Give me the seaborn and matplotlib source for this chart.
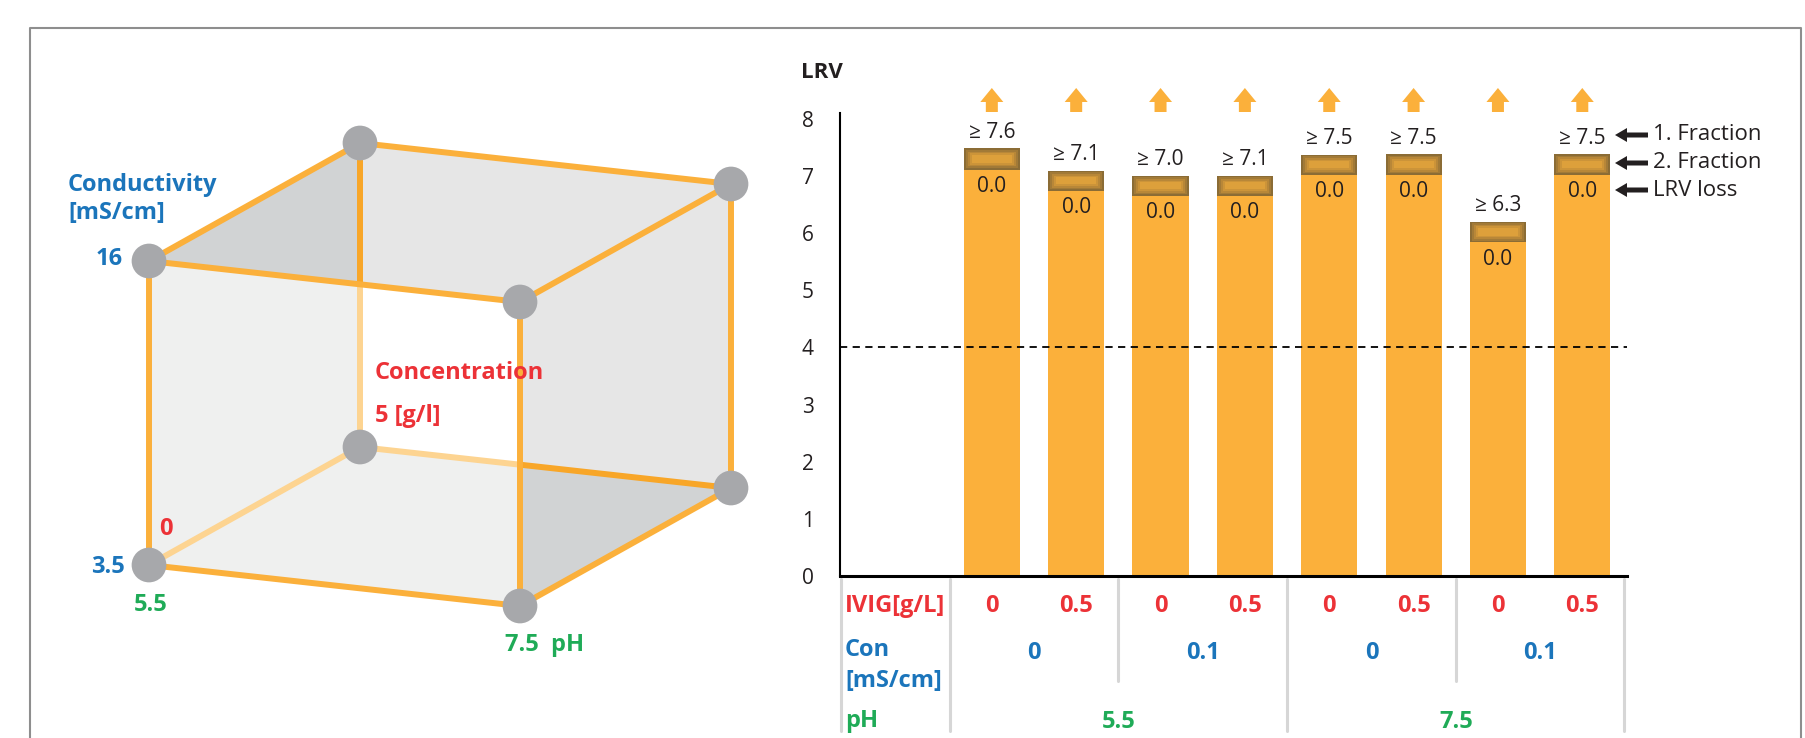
import numpy as np
import pandas as pd
import seaborn as sns
import matplotlib.pyplot as plt
from matplotlib.patches import Polygon, FancyArrow

sns.set_theme(style="white")
plt.rcParams['font.family'] = ['Open Sans', 'DejaVu Sans']

# ---- data ----
ivig = ["0", "0.5", "0", "0.5", "0", "0.5", "0", "0.5"]
con_groups = ["0", "0.1", "0", "0.1"]
ph_groups = ["5.5", "7.5"]
# LRV loss bar top (= bottom of 2. fraction) and top of 2. fraction
lrv_loss_top = [7.11, 6.74, 6.65, 6.65, 7.02, 7.02, 5.84, 7.02]
fraction2_top = [7.48, 7.09, 7.00, 7.00, 7.37, 7.38, 6.20, 7.38]
fraction1_labels = ["≥ 7.6", "≥ 7.1", "≥ 7.0", "≥ 7.1", "≥ 7.5", "≥ 7.5", "≥ 6.3", "≥ 7.5"]
loss_labels = ["0.0"] * 8
threshold = 4
yticks = [0, 1, 2, 3, 4, 5, 6, 7, 8]

# cube ranges
ph_range = [5.5, 7.5]
cond_range = [3.5, 16]
conc_range = [0, 5]

ORANGE = "#fbb03b"
ORANGE_DARK = "#f8a628"
ORANGE_LIGHT = "#fdd491"
RED = "#ec3237"
BLUE = "#1b75bb"
GREEN = "#1fab57"
INK = "#231f20"

W, H = 1806, 738
fig = plt.figure(figsize=(W / 100, H / 100), dpi=100)

# ---- left: cube diagram in pixel space ----
bg = fig.add_axes([0, 0, 1, 1])
bg.set_xlim(0, W)
bg.set_ylim(H, 0)
bg.axis("off")

# frame
bg.plot([29.6, 29.6, 1801, 1801], [H, 28.2, 28.2, H], color="#8e8e8e", lw=1.5)


def proj(ph, cond, conc):
    u = (ph - ph_range[0]) / (ph_range[1] - ph_range[0])
    v = (cond - cond_range[0]) / (cond_range[1] - cond_range[0])
    w = (conc - conc_range[0]) / (conc_range[1] - conc_range[0])
    return np.array([149 + 371 * u + 211 * w, 565 + 41 * u - 304 * v - 118 * w])


def cross(p1, p2, p3, p4):
    d1, d2 = p2 - p1, p4 - p3
    t = np.cross(p3 - p1, d2) / np.cross(d1, d2)
    return p1 + t * d1


lo_ph, hi_ph = ph_range
lo_c, hi_c = cond_range
lo_k, hi_k = conc_range
A = proj(lo_ph, lo_c, lo_k)
B = proj(hi_ph, lo_c, lo_k)
C = proj(hi_ph, lo_c, hi_k)
D = proj(lo_ph, lo_c, hi_k)
E = proj(lo_ph, hi_c, lo_k)
F = proj(hi_ph, hi_c, lo_k)
G = proj(hi_ph, hi_c, hi_k)
Hh = proj(lo_ph, hi_c, hi_k)
X = cross(Hh, D, E, F)
Y = cross(D, C, F, B)

faces = [
    ([E, X, D, A], "#eff0ef"),
    ([A, D, Y, B], "#eff0ef"),
    ([X, F, Y, D], "#ffffff"),
    ([E, Hh, X], "#d1d3d4"),
    ([X, Hh, G, F], "#e6e6e6"),
    ([F, G, C, Y], "#e6e6e6"),
    ([Y, C, B], "#d1d3d4"),
]
for pts, col in faces:
    bg.add_patch(Polygon(np.array(pts), closed=True, facecolor=col, edgecolor="none", zorder=1))

lw = 4.3
for p, q in [(A, D), (X, D), (D, Y)]:
    bg.plot([p[0], q[0]], [p[1], q[1]], color=ORANGE_LIGHT, lw=lw, zorder=2, solid_capstyle="butt")
for p, q in [(Hh, X), (Y, C)]:
    bg.plot([p[0], q[0]], [p[1], q[1]], color=ORANGE_DARK, lw=lw, zorder=2, solid_capstyle="butt")
for p, q in [(A, B), (B, F), (F, E), (E, A), (E, Hh), (Hh, G), (G, F), (G, C), (C, B)]:
    bg.plot([p[0], q[0]], [p[1], q[1]], color=ORANGE, lw=lw, zorder=3, solid_capstyle="butt")

nodes = np.array([A, B, C, D, E, F, G, Hh])
bg.scatter(nodes[:, 0], nodes[:, 1], s=625, color="#a7a8ab", edgecolor="none", zorder=5)

cube_font = dict(fontsize=17, fontweight="bold", zorder=6)
bg.text(68, 185, "Conductivity", color=BLUE, ha="left", va="center", **cube_font)
bg.text(68, 213, "[mS/cm]", color=BLUE, ha="left", va="center", **cube_font)
bg.text(E[0] - 26, E[1] - 2, f"{hi_c:g}", color=BLUE, ha="right", va="center", **cube_font)
bg.text(A[0] - 24, A[1] + 2, f"{lo_c:g}", color=BLUE, ha="right", va="center", **cube_font)
bg.text(A[0] + 2, A[1] + 40, f"{lo_ph:g}", color=GREEN, ha="center", va="center", **cube_font)
bg.text(A[0] + 17, A[1] - 36, f"{lo_k:g}", color=RED, ha="center", va="center", **cube_font)
bg.text(375, 373, "Concentration", color=RED, ha="left", va="center", **cube_font)
bg.text(375, 416, f"{hi_k:g} [g/l]", color=RED, ha="left", va="center", **cube_font)
bg.text(B[0] - 15, B[1] + 39, f"{hi_ph:g}  pH", color=GREEN, ha="left", va="center", **cube_font)

# ---- right: LRV bar chart ----
x0, x1 = 840, 1627
y0, y1 = 576, 113
ax = fig.add_axes([x0 / W, 1 - y0 / H, (x1 - x0) / W, (y0 - y1) / H])
ax.patch.set_alpha(0)

df = pd.DataFrame({"sample": [f"S{i + 1}" for i in range(len(ivig))], "lrv": lrv_loss_top})
bw = 0.665
sns.barplot(data=df, x="sample", y="lrv", color=ORANGE, saturation=1, width=bw, ax=ax,
            zorder=2, edgecolor="none", linewidth=0)

xmin, xmax = -1.80, 7.53
ymax = 8.1
ax.set_xlim(xmin, xmax)
ax.set_ylim(0, ymax)
ppx = (x1 - x0) / (xmax - xmin)  # px per x unit
ppy = (y0 - y1) / ymax  # px per y unit

pos = np.arange(len(ivig))
band = np.array(fraction2_top) - np.array(lrv_loss_top)
base = np.array(lrv_loss_top)
# 2. fraction block, shaded from dark rim to lighter core
shades = [(0, "#8b6c35"), (2, "#a27a37"), (4, "#b88738"), (6, "#cc9439"), (8, "#dda03b")]
for inset, col in shades:
    ax.bar(pos, band - 2 * inset / ppy * 0.8, bottom=base + inset / ppy * 0.8,
           width=bw - 2 * inset / ppx, color=col, edgecolor="none", linewidth=0, zorder=3)

for i in pos:
    ax.text(i, fraction2_top[i] + 16 / ppy, fraction1_labels[i], ha="center", va="center",
            fontsize=15, color=INK, clip_on=False)
    ax.text(i, lrv_loss_top[i] - 17 / ppy, loss_labels[i], ha="center", va="center",
            fontsize=15, color=INK, zorder=4)
    ax.add_patch(FancyArrow(i, ymax + 1 / ppy, 0, 24 / ppy, width=12 / ppx, head_width=23 / ppx,
                            head_length=14 / ppy, length_includes_head=True,
                            color=ORANGE, clip_on=False, lw=0))

ax.axhline(threshold, color="black", lw=1.3, ls=(0, (4, 3)), zorder=4)

# legend arrows on the right
for txt, py in [("1. Fraction", 135), ("2. Fraction", 163), ("LRV loss", 190)]:
    yv = (y0 - py) / ppy
    xa = (1648 - x0) / ppx + xmin
    ax.add_patch(FancyArrow(xa, yv, -33 / ppx, 0, width=5 / ppy, head_width=14 / ppy,
                            head_length=12 / ppx, length_includes_head=True,
                            color=INK, clip_on=False, lw=0))
    ax.text((1653 - x0) / ppx + xmin, yv, txt, ha="left", va="center", fontsize=16,
            color=INK, clip_on=False)

ax.set_yticks(yticks)
ax.set_xticks([])
ax.set_xlabel("")
ax.set_ylabel("")
ax.tick_params(axis="y", length=0, pad=19, labelsize=15, labelcolor=INK)
for s in ["top", "right"]:
    ax.spines[s].set_visible(False)
ax.spines["left"].set_linewidth(1.5)
ax.spines["left"].set_color("black")
ax.spines["bottom"].set_linewidth(2.2)
ax.spines["bottom"].set_color("black")

ax.text((822 - x0) / ppx + xmin, (y0 - 73) / ppy, "LRV", ha="center", va="center",
        fontsize=16, fontweight="bold", color=INK, clip_on=False)


# ---- table under the bars ----
def ty(py):
    return (y0 - py) / ppy


lab_x = (845 - x0) / ppx + xmin
tab_font = dict(fontsize=17, fontweight="bold", clip_on=False, va="center")
ax.text(lab_x, ty(606), "IVIG[g/L]", color=RED, ha="left", **tab_font)
ax.text(lab_x, ty(650), "Con", color=BLUE, ha="left", **tab_font)
ax.text(lab_x, ty(681), "[mS/cm]", color=BLUE, ha="left", **tab_font)
ax.text(lab_x, ty(721), "pH", color=GREEN, ha="left", **tab_font)
for i, v in enumerate(ivig):
    ax.text(i, ty(606), v, color=RED, ha="center", **tab_font)
for j, v in enumerate(con_groups):
    ax.text(2 * j + 0.5, ty(653), v, color=BLUE, ha="center", **tab_font)
for j, v in enumerate(ph_groups):
    ax.text(4 * j + 1.5, ty(722), v, color=GREEN, ha="center", **tab_font)

sep = "#d6d6d6"
for xs in [xmin + 1.5 / ppx, -0.5, 3.5, 7.5]:
    ax.plot([xs, xs], [ty(579), ty(731)], color=sep, lw=2.2, clip_on=False, zorder=1)
for xs in [1.5, 5.5]:
    ax.plot([xs, xs], [ty(579), ty(681)], color=sep, lw=2.2, clip_on=False, zorder=1)

fig.savefig("out.png", dpi=100)
